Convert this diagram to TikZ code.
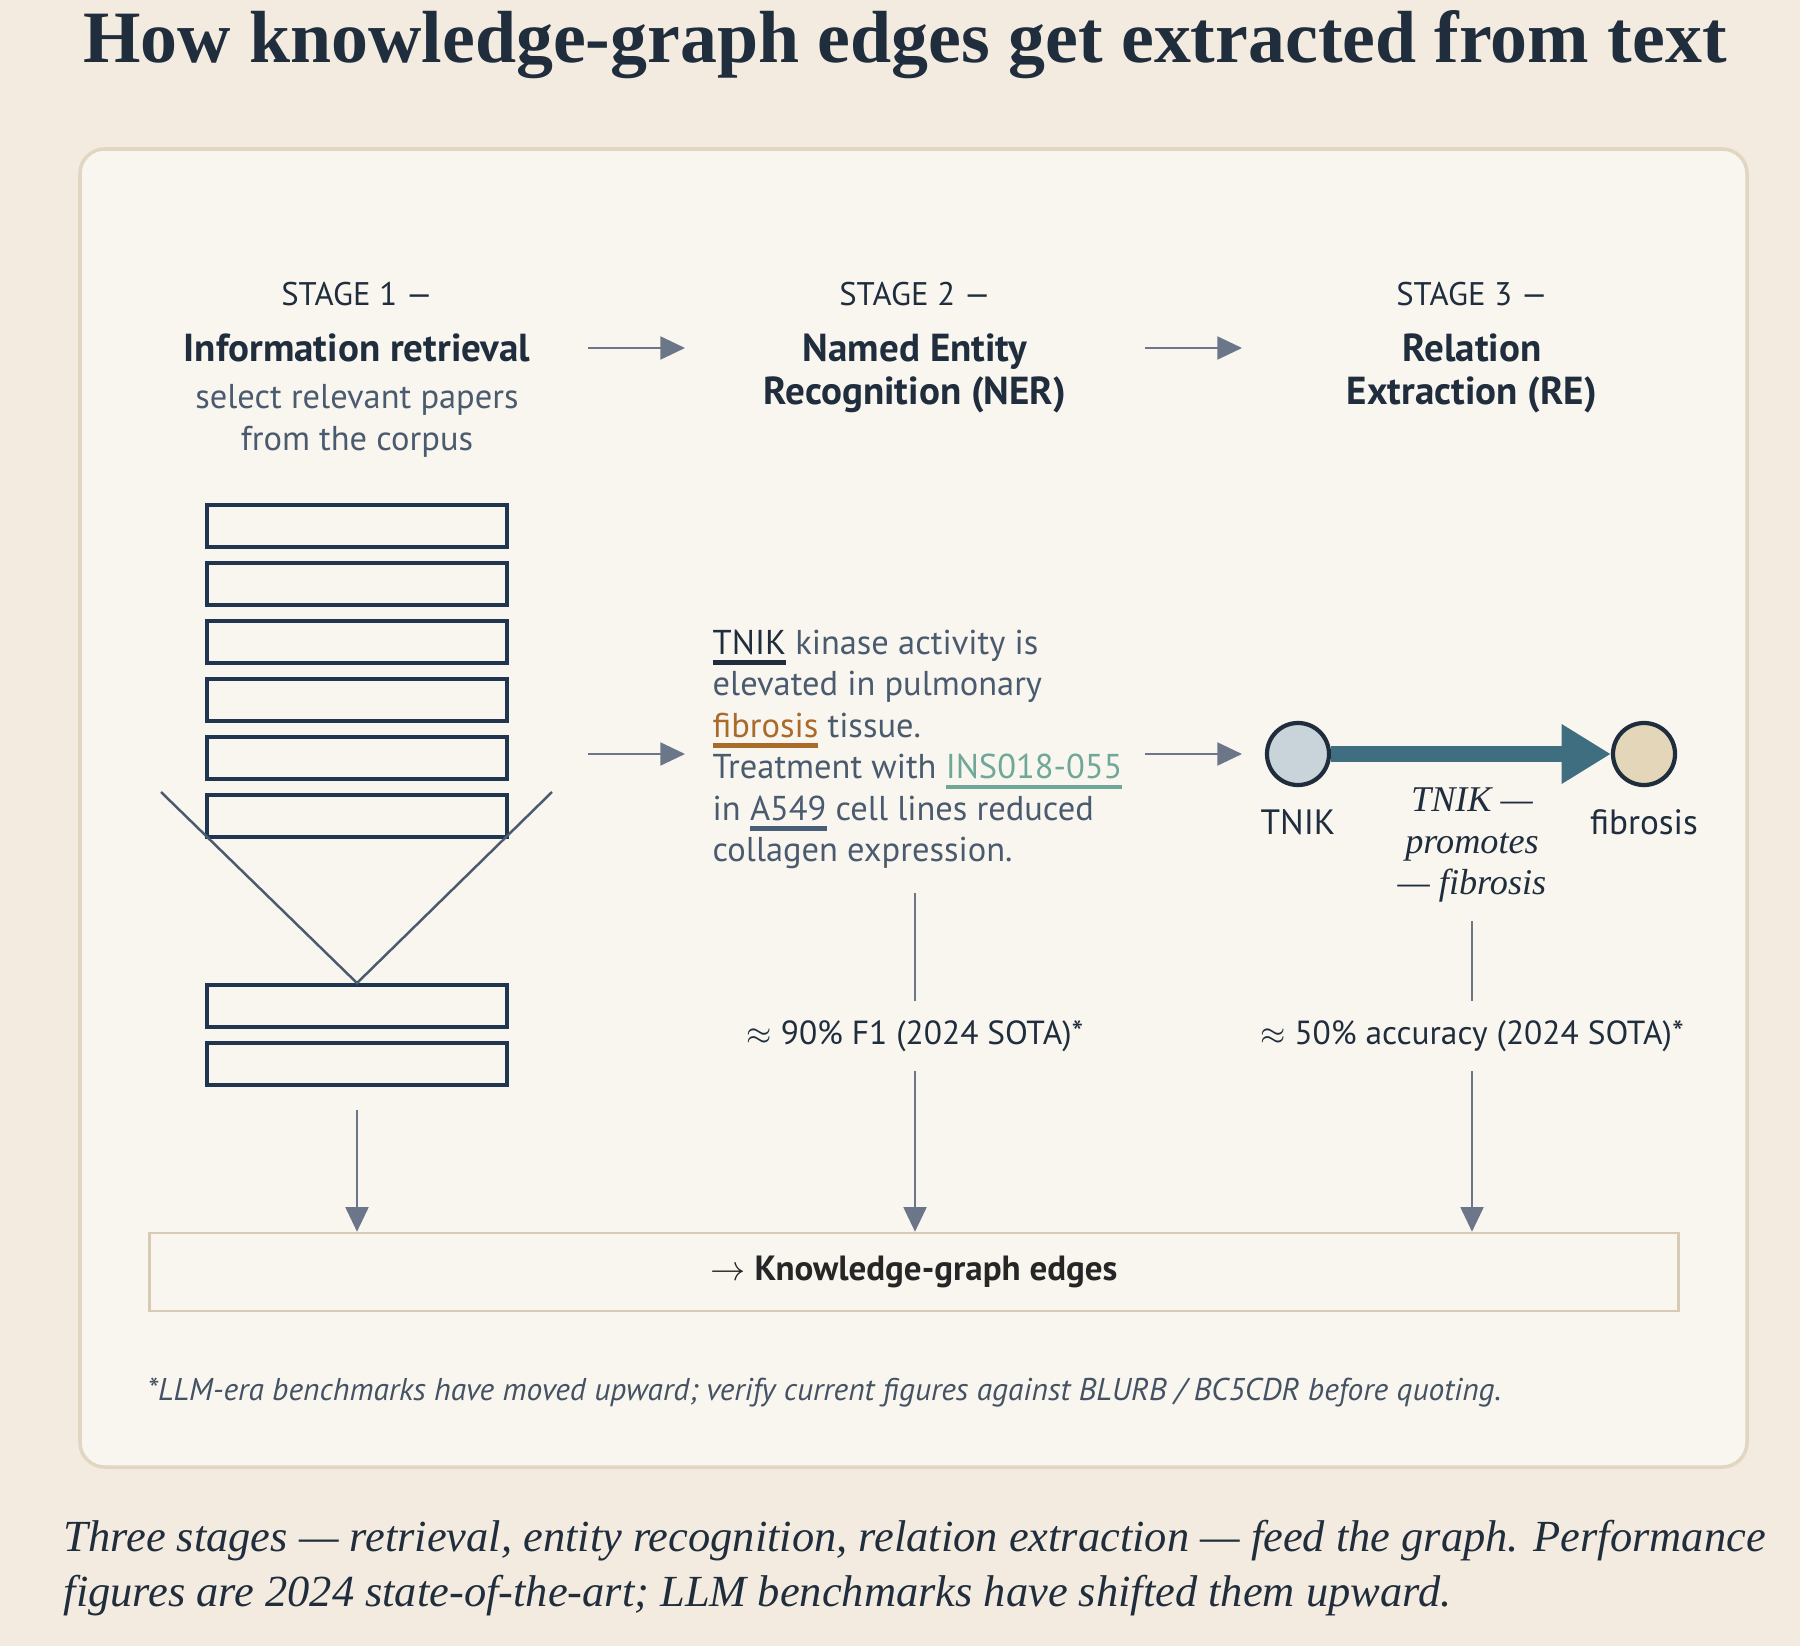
\documentclass[tikz,border=0pt]{standalone}
\usepackage{fontspec}
\setmainfont{Liberation Serif}
\setsansfont{PT Sans}
\usetikzlibrary{arrows.meta,positioning}
\definecolor{pagebg}{HTML}{F3EBDF}
\definecolor{panelbg}{HTML}{F9F6F0}
\definecolor{panelrule}{HTML}{E2D6C2}
\definecolor{inkdark}{HTML}{1F2D3D}
\definecolor{inksoft}{HTML}{4B5B6F}
\definecolor{arrowgrey}{HTML}{6B7789}
\definecolor{docnavy}{HTML}{1F3550}
\definecolor{fibroorange}{HTML}{A96A2A}
\definecolor{drugteal}{HTML}{6FA898}
\definecolor{cellblue}{HTML}{4A5E78}
\definecolor{edgeteal}{HTML}{3E6E80}
\definecolor{tnikfill}{HTML}{C9D3DA}
\definecolor{fibrofill}{HTML}{E4D6B8}
\definecolor{boxrule}{HTML}{D8CBB5}
% parola marcata: colore riga, colore testo, testo
\newcommand\entmark[3]{\setbox0\hbox{\textcolor{#2}{#3}}\rlap{\textcolor{#1}{\rule[-0.3em]{\wd0}{0.12em}}}\box0\relax}

\begin{document}
\begin{tikzpicture}[x=0.01cm, y=-0.01cm,
  title/.style={font=\bfseries\fontsize{21}{25}\selectfont, text=inkdark, inner sep=0},
  stagetag/.style={font=\sffamily\fontsize{9.3}{11}\selectfont, text=inkdark, inner sep=0},
  stagename/.style={font=\sffamily\bfseries\fontsize{11.1}{12.2}\selectfont, text=inkdark, align=center, inner sep=0},
  stagenote/.style={font=\sffamily\fontsize{9.8}{12}\selectfont, text=inksoft, align=center, inner sep=0},
  nertext/.style={font=\sffamily\fontsize{9.8}{11.8}\selectfont, text=inksoft, align=left, inner sep=0},
  doc/.style={draw=docnavy, line width=1.1pt, fill=panelbg, minimum width=2.99cm, minimum height=0.42cm, inner sep=0},
  funnel/.style={draw=inksoft, line width=0.7pt},
  flow/.style={-{Triangle[length=7pt,width=6.5pt]}, draw=arrowgrey, color=arrowgrey, line width=0.7pt},
  stem/.style={draw=arrowgrey, line width=0.7pt},
  entity/.style={circle, draw=inkdark, line width=1.2pt, minimum size=0.62cm, inner sep=0},
  entlabel/.style={font=\sffamily\fontsize{10}{12}\selectfont, text=inkdark, inner sep=0},
  relation/.style={font=\itshape\fontsize{10.3}{11.7}\selectfont, text=inkdark, align=center, inner sep=0},
  score/.style={font=\sffamily\fontsize{9.5}{11}\selectfont, text=inkdark, inner xsep=0, inner ysep=0.19cm},
  kgbox/.style={draw=boxrule, line width=0.7pt, fill=panelbg, minimum width=15.28cm, minimum height=0.78cm, font=\sffamily\bfseries\fontsize{9.95}{11}\selectfont, text=black!85},
  footnote/.style={font=\sffamily\itshape\fontsize{8.95}{10}\selectfont, text=inksoft!90!black, inner sep=0},
  caption/.style={font=\itshape\fontsize{12.64}{15.6}\selectfont, text=inkdark, align=left, inner sep=0}]

% Sfondo e pannello
\fill[pagebg] (0,0) rectangle (1800,1646);
\useasboundingbox (0,0) rectangle (1800,1646);
\draw[panelrule, fill=panelbg, line width=1pt, rounded corners=7pt] (80,149) rectangle (1747,1467);

% Titolo
\node[title, anchor=base] (head) at (905,63) {How knowledge-graph edges get extracted from text};

% Intestazioni delle fasi
\node[stagetag] (tag1) at (357,294) {STAGE 1 —};
\node[stagename] (name1) at (357,348) {Information retrieval};
\node[stagenote] (note1) at (357,421) {select relevant papers\\from the corpus};
\node[stagetag] (tag2) at (915,294) {STAGE 2 —};
\node[stagename] (name2) at (915,373) {Named Entity\\Recognition (NER)};
\node[stagetag] (tag3) at (1472,294) {STAGE 3 —};
\node[stagename] (name3) at (1472,373) {Relation\\Extraction (RE)};

\coordinate (hop1a) at (588,348);
\coordinate (hop1b) at (685,348);
\coordinate (hop2a) at (1145,348);
\coordinate (hop2b) at (1242,348);
\draw[flow] (hop1a) -- (hop1b);
\draw[flow] (hop2a) -- (hop2b);

% Pila di articoli e imbuto
\foreach \i in {1,...,6}{
  \node[doc] (doc\i) at (357,{526+58*(\i-1)}) {};
}
\node[doc] (sel1) at (357,1006) {};
\node[doc] (sel2) at (357,1064) {};
\coordinate (funL) at (161,792);
\coordinate (funR) at (552,792);
\draw[funnel] (funL) -- (sel1.north) -- (funR);

% Testo annotato (NER)
\node[nertext, anchor=north west] (ner) at (712,629) {\entmark{inkdark}{inkdark}{TNIK} kinase activity is\\elevated in pulmonary\\\entmark{fibroorange}{fibroorange}{fibrosis} tissue.\\Treatment with \entmark{drugteal}{drugteal}{INS018-055}\\in \entmark{cellblue}{inksoft}{A549} cell lines reduced\\collagen expression.};

\coordinate (hop3a) at (588,754);
\coordinate (hop3b) at (685,754);
\coordinate (hop4a) at (1145,754);
\coordinate (hop4b) at (1242,754);
\draw[flow] (hop3a) -- (hop3b);
\draw[flow] (hop4a) -- (hop4b);

% Relazione estratta (RE)
\node[entity, fill=tnikfill] (tnikdot) at (1298,754) {};
\node[entity, fill=fibrofill] (fibdot) at (1644,754) {};
\draw[edgeteal, line width=4.4pt, -{Triangle[length=14pt,width=16pt]}] (tnikdot) -- (fibdot);
\node[entlabel, below=0.22cm of tnikdot] (tniktxt) {TNIK};
\node[entlabel, below=0.22cm of fibdot] (fibtxt) {fibrosis};
\node[relation] (rel) at (1472,845) {TNIK —\\promotes\\— fibrosis};

% Prestazioni
\node[score] (f1) at (915,1036) {$\approx$ 90\% F1 (2024 SOTA)*};
\node[score] (acc) at (1472,1036) {$\approx$ 50\% accuracy (2024 SOTA)*};
\coordinate (nerfoot) at (915,893);
\coordinate (relfoot) at (1472,921);
\draw[stem] (nerfoot) -- (f1);
\draw[stem] (relfoot) -- (acc);

% Archi del grafo
\node[kgbox] (kg) at (914,1272) {$\rightarrow$ Knowledge-graph edges};
\draw[flow, shorten <=6.5pt] (sel2) -- (sel2 |- kg.north);
\draw[flow] (f1) -- (f1 |- kg.north);
\draw[flow] (acc) -- (acc |- kg.north);

% Note
\node[footnote, anchor=west] (fnote) at (147,1393) {*LLM-era benchmarks have moved upward; verify current figures against BLURB / BC5CDR before quoting.};
\node[caption, anchor=west] (cap) at (63,1568) {Three stages — retrieval, entity recognition, relation extraction — feed the graph. Performance\\figures are 2024 state-of-the-art; LLM benchmarks have shifted them upward.};

\end{tikzpicture}
\end{document}
